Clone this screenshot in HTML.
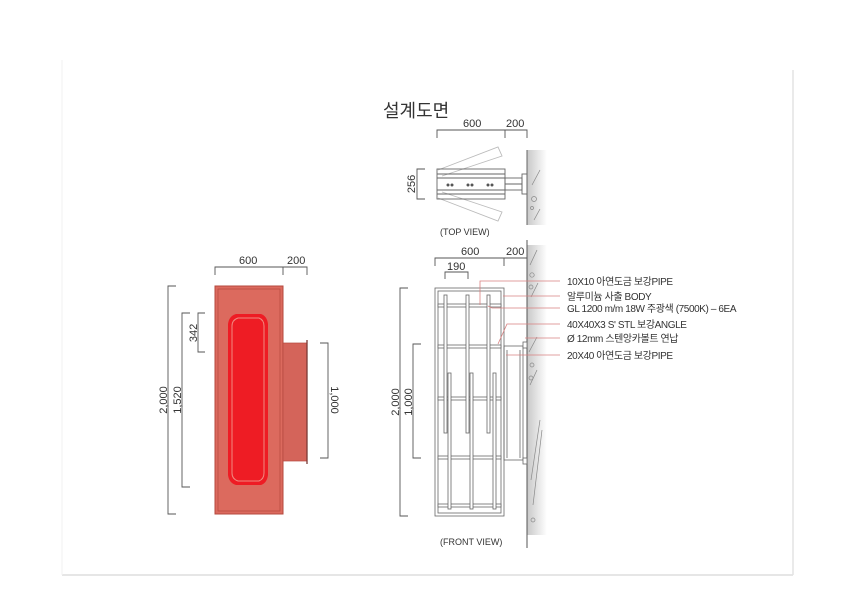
<!DOCTYPE html>
<html><head><meta charset="utf-8"><style>
html,body{margin:0;padding:0;background:#fff;}
svg{display:block;}
text{font-family:"Liberation Sans","Noto Sans CJK KR",sans-serif;fill:#333;}
</style></head><body>
<svg width="860" height="608" viewBox="0 0 860 608" xmlns="http://www.w3.org/2000/svg">
<defs>
<linearGradient id="wall" x1="0" x2="1"><stop offset="0" stop-color="#c8c8c8"/><stop offset="1" stop-color="#fff"/></linearGradient>
</defs>
<line x1="62" y1="575" x2="793" y2="575" stroke="#ddd" stroke-width="1.5"/>
<line x1="793" y1="70" x2="793" y2="575" stroke="#e4e4e4" stroke-width="1.5"/>
<line x1="62" y1="60" x2="62" y2="575" stroke="#f2f2f2" stroke-width="1"/>

<text x="383" y="117" font-size="18" fill="#444">설계도면</text>

<g stroke="#555" fill="none" stroke-width="0.9">
<path d="M215 275V267H307V275M283 267V275"/>
<path d="M176 286H168V514H176"/>
<path d="M190 313H182V487H190"/>
<path d="M205 313H198V352H205"/>
<path d="M320 343H328V458H320"/>
</g>
<text x="239" y="264" font-size="11">600</text>
<text x="287" y="264" font-size="11">200</text>
<text font-size="11" transform="translate(167,400) rotate(-90)" text-anchor="middle">2,000</text>
<text font-size="11" transform="translate(181,400) rotate(-90)" text-anchor="middle">1,520</text>
<text font-size="11" transform="translate(197,333) rotate(-90)" text-anchor="middle">342</text>
<text font-size="11" transform="translate(331,400) rotate(90)" text-anchor="middle">1,000</text>

<rect x="215" y="286" width="68" height="228" fill="#dc6a5e" stroke="#b5483e" stroke-width="1"/>
<rect x="218" y="289" width="62" height="222" fill="none" stroke="#b5483e" stroke-width="0.7"/>
<rect x="283" y="343" width="24" height="118" fill="#d4645a" stroke="#b5483e" stroke-width="0.7"/>
<line x1="307" y1="340" x2="307" y2="464" stroke="#7a3a35" stroke-width="1.3"/>
<path d="M236 314H261Q267 316 268 324V475Q267 483 261 485H236Q229 483 228 475V324Q229 316 236 314Z" fill="#ee1c24"/>
<path d="M238 318H259Q264 320 264 326V473Q264 479 259 481H238Q232 479 232 473V326Q232 320 238 318Z" fill="none" stroke="#f08a80" stroke-width="1"/>

<g stroke="#555" fill="none" stroke-width="0.9">
<path d="M437 138V130H527V138M505 130V138"/>
<path d="M425 169H417V199H425"/>
</g>
<text x="463" y="127" font-size="11">600</text>
<text x="506" y="127" font-size="11">200</text>
<text font-size="11" transform="translate(415,184) rotate(-90)" text-anchor="middle">256</text>
<rect x="527" y="150" width="20" height="75" fill="url(#wall)"/>
<line x1="527" y1="150" x2="527" y2="225" stroke="#666"/>
<g stroke="#bbb" fill="none" stroke-width="0.9">
<path d="M438 170L498 147L502 156L442 176"/>
<path d="M438 198L498 221L502 212L442 192"/>
</g>
<g stroke="#666" fill="none" stroke-width="0.9">
<rect x="437" y="169" width="68" height="30"/>
<line x1="437" y1="174" x2="505" y2="174"/><line x1="437" y1="178" x2="505" y2="178"/>
<line x1="437" y1="190" x2="505" y2="190"/><line x1="437" y1="194" x2="505" y2="194"/>
<rect x="505" y="178" width="17" height="12"/><line x1="505" y1="184" x2="522" y2="184"/>
<rect x="522" y="174" width="5" height="20"/>
</g>
<g fill="#555"><circle cx="448" cy="185" r="1.5"/><circle cx="452" cy="185" r="1.5"/><circle cx="468" cy="185" r="1.5"/><circle cx="472" cy="185" r="1.5"/><circle cx="488" cy="185" r="1.5"/><circle cx="492" cy="185" r="1.5"/></g>
<g stroke="#888" fill="none" stroke-width="0.7"><path d="M532 185L540 170M534 220L540 209"/><circle cx="534" cy="199" r="2.5"/><circle cx="532" cy="208" r="1.5"/></g>
<text x="440" y="235" font-size="9">(TOP VIEW)</text>

<rect x="527" y="245" width="20" height="290" fill="url(#wall)"/>
<line x1="527" y1="240" x2="527" y2="548" stroke="#555"/>
<g stroke="#888" fill="none" stroke-width="0.7">
<path d="M530 265L537 250M531 297L538 283M529 352L537 337M530 385L537 370M531 480L540 420M533 505L542 430"/>
<circle cx="532" cy="275" r="2.2"/><circle cx="531" cy="287" r="2"/><circle cx="532" cy="365" r="2"/><circle cx="531" cy="378" r="2"/><circle cx="533" cy="520" r="2"/>
</g>
<g stroke="#555" fill="none" stroke-width="0.9">
<path d="M435 266V258H527M504 258V266"/>
<path d="M445 279V272H468V279"/>
<path d="M408 288H400V516H408"/>
<path d="M421 344H413V458H421"/>
</g>
<text x="461" y="255" font-size="11">600</text>
<text x="506" y="255" font-size="11">200</text>
<text x="447" y="270" font-size="11">190</text>
<text font-size="11" transform="translate(399,402) rotate(-90)" text-anchor="middle">2,000</text>
<text font-size="11" transform="translate(412,402) rotate(-90)" text-anchor="middle">1,000</text>
<g stroke="#666" fill="#fff" stroke-width="0.8">
<rect x="435" y="288" width="69" height="228"/>
<rect x="438" y="291" width="63" height="222"/>
<rect x="438" y="304" width="63" height="3"/>
<rect x="438" y="345" width="63" height="3"/>
<rect x="438" y="397" width="63" height="3"/>
<rect x="438" y="456" width="63" height="3"/>
<rect x="438" y="504" width="63" height="3"/>
<rect x="444" y="295" width="3" height="138"/>
<rect x="466" y="295" width="3" height="138"/>
<rect x="487" y="295" width="3" height="138"/>
<rect x="448" y="373" width="3" height="136"/>
<rect x="470" y="373" width="3" height="136"/>
<rect x="493" y="373" width="3" height="136"/>
<rect x="504" y="346" width="19" height="114" fill="none"/>
<line x1="507" y1="350" x2="507" y2="458"/>
<line x1="520" y1="350" x2="520" y2="458"/>
<rect x="523" y="342" width="4" height="6"/>
<rect x="523" y="458" width="4" height="6"/>
</g>
<text x="440" y="545" font-size="9">(FRONT VIEW)</text>

<g stroke="#d98080" fill="none" stroke-width="0.8">
<path d="M480 305V281H560"/>
<path d="M503 296H560"/>
<path d="M488 306L492 308H560"/>
<path d="M498 344L507 324H560"/>
<path d="M525 338H560"/>
<path d="M506 355H560"/>
</g>
<g font-size="10" fill="#333" letter-spacing="-0.4">
<text x="567" y="285">10X10 아연도금 보강PIPE</text>
<text x="567" y="300">알루미늄 사출 BODY</text>
<text x="567" y="312">GL 1200 m/m 18W 주광색 (7500K) – 6EA</text>
<text x="567" y="328">40X40X3 S'  STL 보강ANGLE</text>
<text x="567" y="342">Ø 12mm 스텐앙카볼트 연납</text>
<text x="567" y="359">20X40 아연도금 보강PIPE</text>
</g>
</svg>
</body></html>
